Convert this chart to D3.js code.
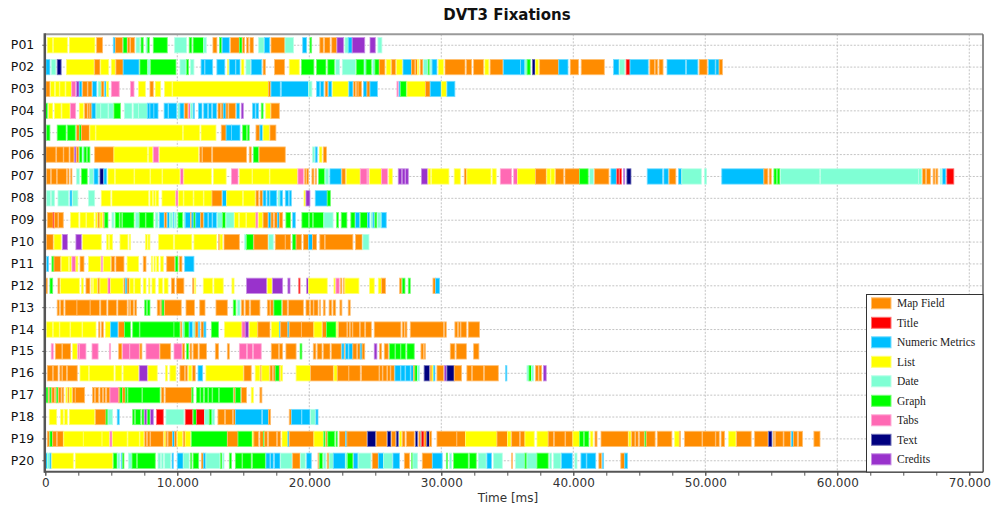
<!DOCTYPE html>
<html><head><meta charset="utf-8">
<script src="https://cdn.jsdelivr.net/npm/d3@7"></script>
<style>body{margin:0;background:#fff} svg{display:block}</style>
</head><body>
<svg id="chart" width="992" height="508"></svg>
<script>
const participants = ["P01","P02","P03","P04","P05","P06","P07","P08","P09","P10","P11","P12","P13","P14","P15","P16","P17","P18","P19","P20"];
const aoiCodes  = ["O","R","N","Y","D","G","P","T","C"];
const aoiNames  = ["Map Field","Title","Numeric Metrics","List","Date","Graph","Tabs","Text","Credits"];
const aoiColors = ["#FF8C00","#FF0000","#00BFFF","#FFFF00","#7FFFD4","#00FF00","#FF69B4","#000080","#9932CC"];
const xTickValues = [0,10000,20000,30000,40000,50000,60000,70000];
const xMinorStep = 2500;
const timeUnit = 100; // fixation times below are in units of 100 ms: <AOI code><start>-<end>
const fixations = [
"Y1.5-5.6 Y6.1-16.7 Y18.2-37.6 O38.9-43.4 N51.5-53 O53-58.6 G59-62 O62.4-64.1 O64.6-67.7 D68.7-71.7 G72.5-74.2 D76.3-77.3 G77.3-78.8 G81.8-92.4 D98-107 G109-111 G112-120 D120-122 O127-130 G132-133.6 N134-139.4 O140.4-147 G147-149 O149.5-151 O152.5-154 O155-157.6 D161.6-165.7 N166-170 O171-181.6 D181.6-188 N195-198 G200.5-201.8 O208-210.6 O211.6-215.7 O217-220.7 C221-226 D227-229.5 N229.5-232.5 C232.5-242 C246-250 D252-255",
"N0.5-3.5 D4.5-8 T9-12 Y16-37 O37.4-41.4 Y42-48 Y50-53 O53.5-59 N59-71 G71.7-77.3 D77.8-79.3 G79.8-99 D102-106.6 G107-108.6 D110-112.6 N118-120.7 N121-126.8 N130-136 Y137.9-139 N139.4-144 N144.4-147.5 Y148.5-150.5 D152-155.5 N156-164 O165-166.7 O173.7-181.3 Y184.8-192.4 G194-203.5 G205.5-212.6 G214-219 D220-223 D225-235 G235.6-241.6 D241.6-243 G243-247 D248-249.7 G249.7-253 O253-257.3 Y258.3-261.8 O262.4-265.4 Y266-270.4 N271-277.5 O277.5-280 O280.5-282 Y282-283 O284-286 D286.6-289.6 G290-291 D291.6-292.7 N293-296.7 Y297.7-301.7 O302.8-318 O319-323 O324.5-332 Y333-336 O337-346.7 N347-360 N360-363.4 D363.4-365 G365-367.4 T369-371 Y371.4-373.5 O374.5-389 N389-396 O397.7-404 O406-423.5 N430.5-434.6 D435-439 R440-443 N443-456.8 O458-461.5 O462-464 O465-468 N471-485 N485.8-494.4 O495.4-501.4 N502.4-507.5 N508-510.5 O510.5-513",
"O0.5-3.5 Y4-7 Y7.6-10.6 Y11-15 Y15.6-20 P20-23 C23.7-25.7 N25.7-27.7 O28.3-31.8 O32.3-35.3 N35.8-38.9 D40-42.4 O42.4-44.4 N45-46 Y46.5-48 P50-56 P64.6-67.2 Y70.7-75.8 O79.3-81.8 Y83.3-87.4 Y90.4-96 Y96.5-169 O169-170.7 N171-178 N178.8-199.5 D199.5-202 N205.5-208 N208.6-211 O212-214 N214.6-217 Y217.7-229.5 N230-233 O233.6-235 O235.6-237 O237-239.6 N241-243.7 O243.7-246 N246-251.7 P266.4-267.4 N268-269 G269-273.5 Y274-288 O288-291.6 N291.6-300 Y300-303.8 N304.3-310.3",
"G0-1.5 Y2.5-5.6 Y7-12 Y12.6-18.7 P19-23 Y25.8-28.8 O29.8-31.8 O32.3-33.8 O33.8-35.3 N35.3-38.4 D38.4-42 D42-47.5 D48-51.5 G52-57 D60-65.7 D66.7-70.7 D70.7-77.3 N77.3-79.3 N79.3-82.3 N82.3-85.4 N90-93 N93.4-99.5 D100.5-102 N102-105 O105.6-108 P108.6-110 D110-111.6 N112-113 N116-118.7 N120-123 N123.7-126 N126.8-129.8 O130.8-132.8 O133.3-134.8 N134.8-136.9 O136.9-138.4 O139-144 N145-147 C148.5-150 N157-159 N159.6-161.6 G163.6-165 Y167-170.7 O171-177.3",
"D0-1 G1-3.5 G9-15.7 G16.7-22.7 O23.7-25.8 G25.8-27.3 O27.3-33.3 Y33.8-37.9 Y38.4-104 Y104.5-117 Y118-129.3 O133.3-137 N137-141 N141-147.5 G149.5-152.5 G153-154.5 O159.6-162.6 N162.6-164.6 Y165-169.7 O170.2-174.7",
"O0.5-8 O8.6-13.6 O14-18 O18.7-21.7 C22.2-23.2 O23.7-25.3 G25.8-27.8 D28.3-29.3 G29.3-31.3 G31.8-33.8 O37.4-52 Y52-77.3 Y78.3-81.3 P81.8-85.9 Y86.4-116 O117-118.7 O119-126 O126.8-152.5 O154.5-156 G157.6-161.6 O162-181.8 D202.5-204 N204.5-206 Y207.6-209.6 O210.6-213",
"O1-4 O4.5-8.6 O9-16 O16.7-18 O19.2-20.2 D23.7-25.8 G27.3-31.8 D33.3-36.4 N36.9-40 T41.4-44 N44.4-46.5 Y47.5-52.5 Y53-67.2 Y67.7-79.3 Y79.8-88.4 Y88.9-102 P102.5-104.5 Y105-125.8 Y127.3-137 P141-146 Y147-156.6 Y157-169.7 Y170.2-191 P191.4-195.5 O196.5-197.5 O198-199.5 O202-203.5 O204.5-205.5 G207-211.6 D212-214.6 N215.6-224.2 O224.7-227.3 Y228-238.6 P238.6-243.7 P244-245 Y245.7-254.8 P254.8-259.3 Y260.3-262.9 C267.4-270 C270.4-272.5 C273-275 C285-289.6 Y290-292 Y292.7-305.8 Y309.8-314.4 O317.4-319 Y319.4-337.6 Y338.6-341.6 P344.7-353.3 P354.8-357.8 Y357.8-371.4 O371.4-379.5 Y380-382.6 Y383-386 O386.6-392.7 O393.7-404.8 G404.8-411.3 D412.4-415.4 O416-427 N428.5-432.6 R433-434.6 R435-436.6 C438-439 T440.6-443.7 N456-467.6 N468.6-472 O472.6-477.7 N479.7-482.2 D482.2-497 D499.4-501 N512.5-544.4 O544.4-547.4 O548.4-550 G552-554 G554.5-556.5 D557-586.8 D587.3-661.5 D661.5-664 O664.6-667 O667.6-670.6 O672.6-674 O674.7-676.2 D678-679 N679.7-682.2 R683-688.3",
"D1-4 D4.5-7 D9.6-17.7 N18.7-20.2 D20.7-24.7 D32.8-37.4 Y42.4-49.5 Y50.5-78.3 Y79.3-81.3 Y81.8-83.3 Y83.8-85.9 Y88.4-98.5 P99-100.5 Y101-104.5 Y105-112 Y112.6-119.7 Y120.2-126.3 O126.3-133.8 N134.3-137.4 Y137.4-149.5 Y150-159 O159.6-161.6 O162.6-164.6 N165-167.2 N168-169.7 N170.2-175.3 D176.3-177.8 N177.8-179.8 N181.8-184.3 N184.8-186.4 Y196-197 C197.5-200.5 N204.5-213.6 G213.6-216",
"O1.5-6 R6-7 O7-9.6 O10-13.6 Y19.2-25.3 Y26.3-30.8 Y31.3-36.9 Y37.9-39.4 O39.9-41.4 Y41.4-43.4 O44-45 G45-47.5 D50.5-52 G53-56 G56.6-58 G58.6-67.2 D68.2-71.2 G71.2-75.8 G76.3-81.8 D83.3-85.4 N86.4-90 O90.4-92 N92.4-94 D94.4-96.5 N97-98 D98-99.5 G100.5-104 D105-106 N106-110 O110-111 N111-112.6 G112.6-114 N114-117.7 O117.7-119.7 N120.2-123.2 N123.7-126.3 N126.8-129.8 D130.3-134.3 G134.3-136.4 D136.9-143 Y143.4-146.5 Y147-152 Y152.5-159.6 P159.6-161 Y161.6-164.6 O165-168.7 N169-171 O171-172.7 O173.7-175.8 N175.8-177.3 O177.3-179.8 G182.3-185.8 N187.4-189.4 G194.4-199.5 G200-202.5 G203-211 D211-218 G220.7-222.2 G224.2-228.5 G231.5-234.6 N235-238 G238.6-244.2 N244.2-245.7 D246.7-248.2 N248.2-249.2 G249.7-251.2 D251.7-254.3 N254.8-258.3",
"O1-6 Y6.6-12 C13-16.7 C23.2-27.3 Y28.3-42.4 Y46.5-48 Y48.5-51 Y56.6-62.6 Y63.6-64.6 Y75.8-77.3 Y77.8-79.3 Y85.9-97 Y98-111 Y112.6-129.8 O131.3-132.3 Y132.3-134.3 O135.4-147 D151-152.5 G152.5-157.6 O158-168.7 D169.2-172.7 O174.2-181.8 O181.8-185.8 G187.4-190 O190-194 O195.5-199.5 N199.5-202.5 O202.5-205.5 O208-211.6 O212-233 O235-240 D240.6-245.2",
"N1-2.5 G5-6.6 O6.6-11.6 Y12-17.7 Y18.2-19.7 P20.2-23.2 Y23.2-24.7 O26.3-29.3 Y32.8-42 P42.4-43.4 Y44-49.5 O50-52.5 O53.5-59.6 Y62-70.7 O74.2-76.3 Y80.3-81.3 Y82.3-83.3 Y84.3-85.9 Y87.4-89.4 O92-98 G98.5-100.5 O101.5-103.5 N105.6-112.6",
"O0.5-1.5 G3.5-5.6 O9.6-11 Y11.6-25.8 Y27.3-28.8 O30.8-33.8 Y34.8-35.8 Y36.4-39.4 O39.9-41.4 Y41.4-47.5 P47.5-49.5 Y49.5-59 O59.6-60.6 N60.6-62 O62-63.6 Y64-67 Y67.7-72.2 Y74.2-76.3 Y78.3-79.3 Y80.8-83.3 Y85.9-88.9 Y90-93 O95.5-98 O99.5-105 O111.6-112.6 Y113-114 Y119.7-126.8 Y127.8-134.8 Y141.4-143 C152.5-167.7 Y168.2-171.7 C172.2-179.8 C183.8-185.4 R192-193 C198-199.5 Y199.5-213.6 Y218.7-219.7 P220.2-222.7 O223.7-224.7 O225.8-226.8 Y227-237.6 Y245.7-249.2 Y252.3-254.8 O254.8-257.8 O268.4-270 G270.4-272.5 G275-276.5 O293.7-295.7 N295.7-298.7",
"O9-10.6 O11.6-14 O15-24 O24-34 O34-41 O42-46.5 O47.5-54 O55-62 O63-64 O64.6-66.7 O67.7-69.2 G75.3-76.8 G77.3-79.3 O84.8-86.9 O87.4-88.4 G88.4-90 O90.4-103 O106.6-113 O117-121 O129.3-137.9 G142.4-144.4 D145.5-147.5 O148.5-150.5 O151.5-154.5 O155.6-162.6 O168.2-170.2 O170.7-172.7 G173.2-178.8 O179.8-183.3 O184.3-195.5 O197.5-200 O201-203 O203.5-206.6 O207.6-208.6 O210.6-212 O215-217 O218-220 O223.2-224.7 O229.5-231",
"Y1-5.6 Y6-10.6 Y11-18.7 Y19.2-27.8 Y28.3-38.4 O40.4-41.4 O42.4-44 Y45.5-49.5 N49.5-55 O55.6-60 G60-64.6 G66.2-71.2 G71.7-97.5 G97.5-102 O102.5-103.5 D104-105.6 G105.6-109 N109-111.6 D112-113.6 O113.6-115.7 N116-117 O118-120.2 N120.2-121.7 G125.8-131.3 Y135.8-149 P149-151.5 C151.5-154 Y154.5-161 O161-170.2 Y171.2-177.3 N177.3-178.3 O178.3-183.8 N183.8-184.8 O184.8-194 O194-203.5 Y203.5-209.6 O210-213 G213-220.2 Y220.7-221.2 O222.2-228.5 O229-230.5 O231-232.6 O233-238 O238.6-242 O242.7-247 O249.2-269.4 O270.4-272 O272.5-274 O276.5-301.7 O302.3-303.8 O310.3-312.4 O312.9-314.4 O314.9-319 O320.4-329",
"P4.5-6 O7.6-12.6 O13-19.2 Y20.7-24.2 P24.7-25.8 P25.8-30.8 P35.4-40 P48.5-49.5 O55.6-58 P58.6-64 P64-71.2 O71.7-73.2 P76.3-86.4 O86.9-95 P97.5-103.5 O104-105.6 G107-108.6 O109.6-111 O112-115.7 O116.7-122.2 O128.8-131.3 O137.9-139.4 P147-152.5 P153-157 P157.6-163.6 O171.2-176.8 O177.3-179.8 O182.3-190 G193-194.4 O203-205 O206-209.6 O210.6-215.7 O216.7-224.2 N224.7-226.3 O226.8-227.5 N227.5-229.5 N230-233 O233-236 O236.6-238.6 N238.6-240 O240-242 C249.2-251.2 O253.3-254.8 O256.8-259.8 G260.8-264.9 G265.4-269 G269.4-273 G274-279.5 O284.6-286.6 O287-288 O306.8-310.3 O311.3-319 O324.5-328.5",
"O1.5-5.6 O6-9.6 O11-12.6 O13-16 O16.7-24.2 Y26.3-32.8 Y33.3-52 Y53-58 Y59-70.7 C71.2-77.3 Y77.8-84.8 Y91-92.4 Y94.4-99 O102-105.6 O106-107.6 Y108.6-111 O111.6-113.6 N115.7-119.2 Y121.7-150 O150.5-156 Y159-162.6 O163-164 Y164-169.7 O170.2-172.2 O172.7-174.2 G174.2-177.3 O177.3-178.3 Y178.3-179.8 Y190-201 O201-218.2 Y218.7-221.2 O221.2-230 O230-238.6 O239.6-252.8 O253.3-255.3 O255.8-258.8 O259.3-261.3 O261.8-264.4 N264.9-269 N269.4-272.5 N273-276.5 N277-279 O279-280 G280-282 D282-283.6 T287-291 O291.6-293 Y293-294.2 N294.2-295.2 O296.7-301.7 C302.3-303.8 T304.3-309.8 O309.8-315.4 O319.4-323 O323.5-332 O332.6-343.2 N348.7-349.7 D364.9-366.4 G366.4-368.4 D368.4-370 O371.4-373.5 O374-376 C377.5-379.5",
"G0.5-2 O2.5-3.5 G3.5-4.5 O5-7 O7.6-8.6 G8.6-9.6 O10-12 O12.6-14 Y15.6-16.7 O17.2-18.2 Y18.2-20.2 O20.7-22.7 O22.7-29.8 O35.8-37.4 O37.9-40.4 O41.4-43.4 O44-45.5 O46.5-49 P49-55.6 O55.6-56.6 G56.6-58.6 O58.6-60.6 G60.6-62 G62.6-73.2 G73.7-86.9 O87.9-89.9 O90.9-111 G111-112 G114.6-117.2 G117.7-119.7 G120.7-123.2 G123.7-126.3 G126.8-131.3 G131.8-142.4 O143-144 G144-148 O148.5-152.5 Y156-157.6 O162.6-164.1",
"Y3-8.6 Y11.6-13.6 Y14.6-16.7 Y18.2-37.4 O37.9-46 G46-47.5 D47.5-51 N54.5-56 G66.2-67.7 G68.2-72.2 G73.2-74.7 C75.3-76.8 G77.3-79.3 C79.8-81.8 R84.3-89.4 D91.4-105 R106-111.6 G112-114.6 R114.6-120.7 D120.7-124.2 G124.2-126.3 D126.3-128.3 O130.8-135.9 O136.4-141.9 O142.4-144 N144-164 N164.6-169.2 O169.2-170.7 O184.8-186.4 N186.4-194 N194.4-200.5 D201-204.5 N205-206.6",
"O1.5-3 G3.5-5.6 O5.6-8.6 O9-13.6 Y14-28.8 Y28.8-43 Y43-48.5 P49-50.5 Y51-62 Y62.6-71.2 Y71.7-74.7 O75.3-76.8 O77.3-79.3 O79.8-89.4 Y90-91.4 O91.4-92.4 O93-96.5 N96.5-98 O98-99.5 Y100-104 O104.5-106 Y106-110 G110.6-137.9 O137.9-146 G146-156.6 Y157-158 O158-161.6 O162.6-165.2 G165.2-166.2 O166.2-168.2 O169.2-175.3 O175.8-178.3 Y179.3-183.8 N183.8-184.8 O184.8-203.5 Y203.5-210.6 G211-212 O212.6-213.6 G214-219.2 G220.2-221.2 O222.7-227.5 N227.5-228.5 O228.5-243.7 T244.2-250.2 O250.7-258.8 T259.3-261.8 O262.4-265.4 T265.9-267.4 Y268.4-270 O270.4-272.5 O273.5-279.5 T280.5-282 O283-284.6 N284.6-285 R285-287 O287-288.6 T289-291 O291-292.7 O296.7-311.8 O311.8-318.4 Y318.4-342.2 O342.2-350.2 Y350.2-352.8 O353.3-359.3 O359.8-363.4 Y363.4-370.4 Y372.5-381 O381-385 O385.6-393.7 O394.2-399.7 Y399.7-404.8 G404.8-407.8 G408.3-411.8 Y412.9-414.9 O416.4-418 O421-441.6 Y442-443.7 O444.2-446.7 O447.2-449.2 O450.2-453.8 G454.3-455.3 O455.3-462 O463.6-474.7 Y476.8-480.3 O480.3-481.3 O484.3-497.5 O498-507.6 O508-510.6 O512-514.6 Y517.7-523.2 O523.7-534.8 O537.4-547.5 T548-550.5 O551.5-552.5 O553-559 O559.6-564.6 N565.2-566.7 O566.7-569.7 O570.7-573.7 O582.3-586.9",
"N0-1.5 D1.5-3.5 N3.5-4.5 Y5-21.2 Y22.7-51 G51.5-54.5 D54.5-56.6 N57.6-58.6 G58.6-59.6 D63-65.7 G65.7-69.2 G69.7-83.3 D85.4-87.4 D87.9-89.4 D90.4-95 N96-97 N100-104.5 D104.5-109 G110-111 G112-116.2 O118.2-119.7 N119.7-121.7 D121.7-132.3 G132.8-133.8 D134.3-135.4 G139.4-141 G144-149 G149.5-156 G157-166.7 N167.2-170.2 N170.7-172.7 N173.7-177.8 D178.3-186.9 O187.4-193 D193.4-197 N198-201.5 O206.6-207 G207.6-210 D210.6-212.6 O213.6-215 D215-218.2 N218.2-227.3 D227.3-229 G229-233 N233.6-237 D237-246.7 O247.7-252.3 N252.3-256.3 D256.3-262.9 N263.4-268.4 O272-276 G277.5-278.5 D278.5-282 O285.6-293.2 N293.2-300.7 G303.8-304.8 D306.3-307.8 G309.3-320.4 G321.4-326.5 D328-334 N334.6-338 D339.6-346.2 O353.3-353.8 D356.3-363.4 G363.4-364.9 D364.9-372.5 G372.5-381 D382-383.6 D385-390.6 N391-399.2 D401.2-402.8 N405.8-409.8 N410.3-417 O419.4-421.4 N422-423 O436-439 N439-441"
];

const segments = [];
fixations.forEach((s, i) => {
  s.trim().split(/\s+/).forEach(tok => {
    const code = tok[0];
    const [a, b] = tok.slice(1).split("-").map(Number);
    segments.push({p: participants[i], code, start: a * timeUnit, end: b * timeUnit});
  });
});

const svg = d3.select("#chart");
const pL = 45.3, pR = 983, pT = 34.3, pB = 471.7;
const x = d3.scaleLinear().domain([0, 71040]).range([pL, pR]);
const y = d3.scaleBand().domain(participants).range([pT, pB]).paddingInner(0.3).paddingOuter(0.15);
const color = d3.scaleOrdinal().domain(aoiCodes).range(aoiColors);
const edge = c => d3.interpolateRgb(c, "#ffffff")(0.45);

// title
svg.append("text").attr("x", 507).attr("y", 20).attr("text-anchor", "middle")
  .attr("font-family", "DejaVu Sans, Verdana, sans-serif").attr("font-weight", "bold")
  .attr("font-size", 15).attr("fill", "#111").text("DVT3 Fixations");

// grid
const grid = svg.append("g");
grid.selectAll("line.h").data(participants).join("line")
  .attr("x1", pL).attr("x2", pR)
  .attr("y1", d => y(d) + y.bandwidth() / 2).attr("y2", d => y(d) + y.bandwidth() / 2)
  .attr("stroke", "#c4c4c4").attr("stroke-dasharray", "2,1.5").attr("stroke-width", 1);
grid.selectAll("line.v").data(xTickValues.slice(1)).join("line")
  .attr("x1", d => x(d)).attr("x2", d => x(d)).attr("y1", pT).attr("y2", pB)
  .attr("stroke", "#c4c4c4").attr("stroke-dasharray", "2,1.5").attr("stroke-width", 1);

// bars
svg.append("g").selectAll("rect").data(segments).join("rect")
  .attr("x", d => x(d.start)).attr("y", d => y(d.p))
  .attr("width", d => Math.max(0.8, x(d.end) - x(d.start)))
  .attr("height", y.bandwidth())
  .attr("fill", d => color(d.code))
  .attr("stroke", d => edge(color(d.code))).attr("stroke-width", 0.8);

// frame
svg.append("line").attr("x1", pL).attr("x2", pR).attr("y1", pT).attr("y2", pT)
  .attr("stroke", "#9a9a9a").attr("stroke-width", 2);
svg.append("line").attr("x1", pR).attr("x2", pR).attr("y1", pT).attr("y2", pB)
  .attr("stroke", "#666").attr("stroke-width", 1.5);

// x axis
const fmt = d => d3.format(",")(d).replace(/,/g, ".");
const xMinor = d3.range(0, 71040, xMinorStep);
const xa = svg.append("g").attr("transform", `translate(0,${pB})`)
  .call(d3.axisBottom(x).tickValues(xMinor).tickSize(4).tickFormat(""));
xa.select(".domain").remove();
xa.selectAll(".tick line").attr("stroke", "#555");
const xb = svg.append("g").attr("transform", `translate(0,${pB})`)
  .call(d3.axisBottom(x).tickValues(xTickValues).tickSize(4).tickPadding(3).tickFormat(fmt));
xb.select(".domain").remove();
xb.selectAll(".tick line").attr("stroke", "#555");
xb.selectAll("text").attr("font-family", "DejaVu Sans, Verdana, sans-serif").attr("font-size", 12).attr("fill", "#333");
svg.append("line").attr("x1", pL - 1).attr("x2", pR).attr("y1", pB).attr("y2", pB)
  .attr("stroke", "#555").attr("stroke-width", 2);
svg.append("text").attr("x", 508).attr("y", 502).attr("text-anchor", "middle")
  .attr("font-family", "DejaVu Sans, Verdana, sans-serif").attr("font-size", 12).attr("fill", "#333")
  .text("Time [ms]");

// y axis
const ya = svg.append("g").attr("transform", `translate(${pL},0)`)
  .call(d3.axisLeft(y).tickSize(3).tickPadding(8));
ya.select(".domain").remove();
ya.selectAll(".tick line").attr("stroke", "#555");
ya.selectAll("text").attr("font-family", "DejaVu Sans, Verdana, sans-serif").attr("font-size", 12.5).attr("fill", "#111");
svg.append("line").attr("x1", pL - 0.5).attr("x2", pL - 0.5).attr("y1", pT - 1).attr("y2", pB + 1)
  .attr("stroke", "#555").attr("stroke-width", 2.5);

// legend
const lg = svg.append("g");
lg.append("rect").attr("x", 866.5).attr("y", 294.5).attr("width", 116.5).attr("height", 177.5)
  .attr("fill", "#fff").attr("stroke", "#333").attr("stroke-width", 1);
const items = lg.selectAll("g.item").data(aoiCodes).join("g")
  .attr("transform", (d, i) => `translate(871,${303.3 + i * 19.5})`);
items.append("rect").attr("x", 0.5).attr("y", -5.5).attr("width", 19.5).attr("height", 11)
  .attr("fill", d => color(d)).attr("stroke", d => edge(color(d))).attr("stroke-width", 1);
items.append("text").attr("x", 26).attr("y", 0).attr("dy", "0.35em")
  .attr("font-family", "Liberation Serif, Times New Roman, serif").attr("font-size", 11.5).attr("fill", "#222")
  .text((d, i) => aoiNames[i]);
</script>
</body></html>
